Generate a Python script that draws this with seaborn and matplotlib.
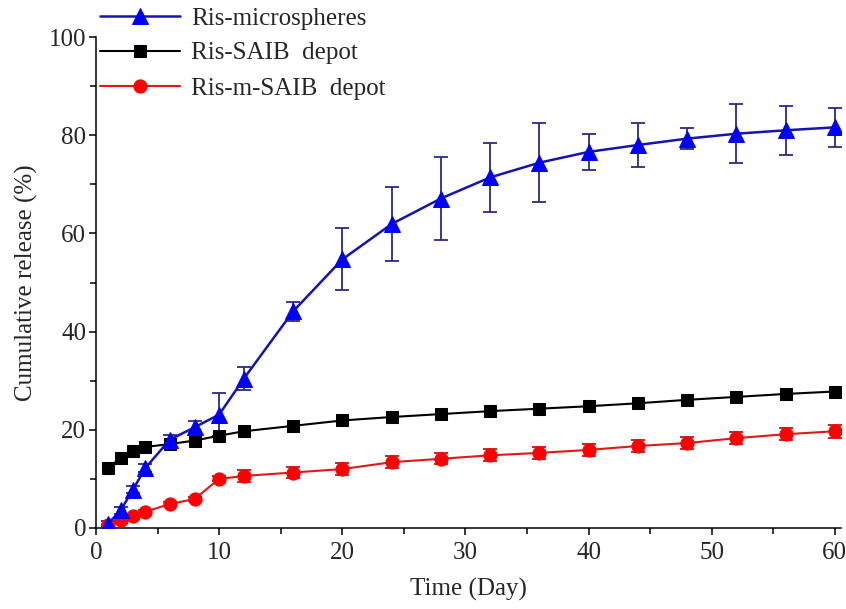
import numpy as np
import pandas as pd
import matplotlib
matplotlib.use("Agg")
import matplotlib.pyplot as plt
import seaborn as sns
from matplotlib.ticker import MultipleLocator

days = [1, 2, 3, 4, 6, 8, 10, 12, 16, 20, 24, 28, 32, 36, 40, 44, 48, 52, 56, 60]

micro = [0.9, 3.6, 7.8, 12.2, 18.0, 20.5, 23.1, 30.4, 44.1, 54.7,
         61.9, 67.1, 71.4, 74.4, 76.6, 78.0, 79.3, 80.3, 81.0, 81.6]
micro_err = [0.5, 0.7, 0.7, 0.8, 1.0, 1.2, 4.3, 2.3, 2.0, 6.3,
             7.6, 8.5, 7.1, 8.0, 3.6, 4.5, 2.2, 6.0, 5.0, 4.0]

saib = [12.2, 14.3, 15.7, 16.5, 17.1, 17.8, 18.8, 19.7, 20.8, 21.9,
        22.6, 23.2, 23.8, 24.3, 24.8, 25.4, 26.1, 26.7, 27.3, 27.8]

msaib = [0.6, 1.6, 2.4, 3.3, 4.9, 5.9, 10.0, 10.6, 11.3, 12.0,
         13.4, 14.1, 14.8, 15.3, 15.9, 16.7, 17.3, 18.3, 19.1, 19.7]
msaib_err = [0.3, 0.3, 0.3, 0.3, 0.4, 0.5, 0.5, 1.2, 1.2, 1.2,
             1.2, 1.1, 1.2, 1.2, 1.2, 1.2, 1.3, 1.2, 1.2, 1.3]

labels = ["Ris-microspheres", "Ris-SAIB  depot", "Ris-m-SAIB  depot"]

sns.set_theme(style="ticks")
plt.rcParams['font.family'] = ['Liberation Serif', 'DejaVu Serif']

df = pd.DataFrame({'day': days, 'micro': micro, 'saib': saib, 'msaib': msaib})

fig = plt.figure(figsize=(8.46, 6.09), dpi=100)
ax = fig.add_axes([96 / 846, 1 - 528 / 609, (841 - 96) / 846, (528 - 37) / 609])

# error bars first
ax.errorbar(days, micro, yerr=micro_err, fmt='none', ecolor='#2a2a8a',
            elinewidth=1.3, capsize=5, capthick=1.3, zorder=2)
ax.errorbar(days, msaib, yerr=msaib_err, fmt='none', ecolor='#cc1010',
            elinewidth=1.3, capsize=5, capthick=1.3, zorder=2)

sns.lineplot(data=df, x='day', y='saib', ax=ax, color='black', marker='s',
             markersize=8.5, markeredgecolor='black', linewidth=1.5,
             label=labels[1], zorder=3)
sns.lineplot(data=df, x='day', y='msaib', ax=ax, color='#e01818', marker='o',
             markersize=9.5, markerfacecolor='#ff0000', markeredgecolor='#ff0000',
             linewidth=1.5, label=labels[2], zorder=4)
sns.lineplot(data=df, x='day', y='micro', ax=ax, color='#1414b4', marker='^',
             markersize=11.5, markerfacecolor='#0000ff', markeredgecolor='#0000ff',
             linewidth=1.8, label=labels[0], zorder=5)

ax.set_xlim(0, 60.5)
ax.set_ylim(0, 100)
ax.xaxis.set_major_locator(MultipleLocator(10))
ax.xaxis.set_minor_locator(MultipleLocator(5))
ax.yaxis.set_major_locator(MultipleLocator(20))
ax.yaxis.set_minor_locator(MultipleLocator(10))
ax.tick_params(which='major', direction='out', length=5, width=1.1,
               labelsize=18, color='black', pad=2)
ax.tick_params(axis='x', which='major', pad=5)
ax.tick_params(which='minor', direction='out', length=4, width=1.1, color='black')

for side in ['top', 'right']:
    ax.spines[side].set_visible(False)
for side in ['left', 'bottom']:
    ax.spines[side].set_linewidth(1.1)
    ax.spines[side].set_color('black')

ax.set_xlabel('Time (Day)', fontsize=18, labelpad=10)
ax.set_ylabel('Cumulative release (%)', fontsize=18, labelpad=8)

handles, labs = ax.get_legend_handles_labels()
order = [labs.index(l) for l in labels]
ax.legend([handles[i] for i in order], [labs[i] for i in order],
          loc='upper left', bbox_to_anchor=(100 / 846, 1 - 7 / 609),
          bbox_transform=fig.transFigure, frameon=False, fontsize=18,
          handlelength=3.2, handletextpad=0.45, labelspacing=0.5,
          borderpad=0, borderaxespad=0)

fig.savefig('out.png', dpi=100)
